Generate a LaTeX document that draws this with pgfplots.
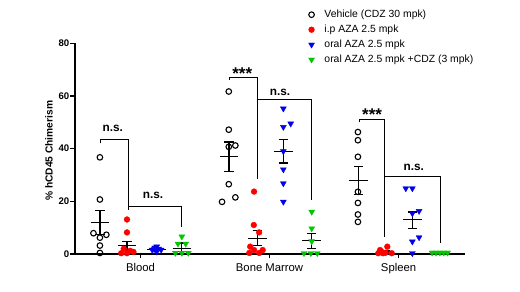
\documentclass[border=0pt]{standalone}
\usepackage{fontspec}
\setmainfont{Liberation Sans}
\usepackage{pgfplots}
\pgfplotsset{compat=1.18}
\definecolor{cred}{RGB}{255,0,0}
\definecolor{cblue}{RGB}{0,0,235}
\definecolor{cgreen}{RGB}{0,200,0}
\newcommand\fs[1]{\fontsize{#1}{#1}\selectfont}
\begin{document}
\begin{tikzpicture}
\useasboundingbox (-75pt,-38pt) rectangle (445pt,254pt);
\begin{axis}[
  at={(0,0)}, anchor=south west,
  scale only axis, width=390pt, height=210.7pt,
  xmin=0.492, xmax=3.515, ymin=0, ymax=80,
  axis lines=left, axis line style={line width=1.3pt,-},
  clip=false, unbounded coords=jump,
  xtick={1,2,3}, xticklabels={Blood,Bone Marrow,Spleen},
  ytick={0,20,40,60,80}, minor tick num=0,
  tick align=outside, major tick length=4.5pt,
  tick style={line width=1.2pt,black},
  /pgf/number format/assume math mode=true,
  yticklabel style={font=\fs{9.6}\bfseries, inner sep=1pt},
  xticklabel style={font=\fs{11.3}, inner sep=0pt, yshift=-5pt},
  ylabel={\% hCD45 Chimerism},
  ylabel style={font=\fs{10.2}\bfseries, at={(axis description cs:-0.0667,0.49)}, anchor=center, rotate=0},
  legend style={at={(axis description cs:0.599,1.1595)}, anchor=north west,
    draw=none, fill=none, inner sep=0pt, outer sep=0pt, row sep=5pt, column sep=10pt,
    font=\fs{10.4}, nodes={inner sep=0pt, text height=7.5pt, text depth=2.5pt}},
  legend cell align=left,
  legend image code/.code={\draw[#1] plot coordinates {(0pt,0pt)};},
]
% Vehicle
\addplot[only marks, mark=o, mark size=2.8pt, mark options={line width=1.1pt, black}] coordinates {
 (0.685,36.7)(0.685,20.7)(0.635,7.9)(0.685,6.2)(0.735,7.3)(0.685,3.2)(0.685,0.4)
 (1.684,61.7)(1.684,47.2)(1.735,41.2)(1.684,40.7)(1.684,26.5)(1.735,21.5)(1.632,19.8)
 (2.685,46.3)(2.685,43.2)(2.685,36.9)(2.685,23.6)(2.685,19.4)(2.685,15.0)(2.685,12.2)};
\addlegendentry{Vehicle (CDZ 30 mpk)}
% i.p AZA
\addplot[only marks, mark=*, mark size=2.9pt, color=cred, mark options={draw=cred, fill=cred}] coordinates {
 (0.895,13.1)(0.895,8.2)(0.87,2.0)(0.92,1.2)(0.85,0.3)(0.895,0.3)(0.945,0.8)
 (1.88,23.7)(1.878,11.0)(1.919,8.2)(1.85,2.8)(1.88,1.5)(1.947,1.5)(1.843,0.4)(1.92,0.4)
 (2.857,1.5)(2.913,2.8)(2.88,0.3)(2.947,0.3)(2.843,0.3)(2.9,0.5)(2.87,0.8)};
\addlegendentry{i.p AZA 2.5 mpk}
% oral AZA
\addplot[only marks, mark=triangle*, mark size=3.4pt, color=cblue, mark options={rotate=180, draw=cblue, fill=cblue}] coordinates {
 (1.09,1.6)(1.11,2.4)(1.125,2.8)(1.14,2.0)(1.16,1.6)(1.125,0.9)(1.105,1.8)
 (2.107,55.2)(2.164,49.5)(2.107,48.2)(2.107,39.0)(2.107,32.1)(2.107,26.8)(2.107,19.8)
 (3.056,24.9)(3.107,24.9)(3.159,16.3)(3.107,15.4)(3.159,6.3)(3.107,4.7)(3.107,0.3)};
\addlegendentry{oral AZA 2.5 mpk}
% oral AZA + CDZ
\addplot[only marks, mark=triangle*, mark size=3.4pt, color=cgreen, mark options={rotate=180, draw=cgreen, fill=cgreen}] coordinates {
 (1.32,6.6)(1.29,3.9)(1.35,3.9)(1.27,0.4)(1.32,0.4)(1.37,0.4)
 (2.327,16.0)(2.327,9.7)(2.327,4.8)(2.267,0.3)(2.32,0.3)(2.37,0.3)
 (3.26,0.5)(3.29,0.5)(3.32,0.5)(3.35,0.5)(3.38,0.5)};
\addlegendentry{oral AZA 2.5 mpk +CDZ (3 mpk)}
% mean and SEM
\addplot[black, line width=1.3pt, forget plot] coordinates {
 (0.613,11.9)(0.757,11.9)(nan,nan)(0.685,7.3)(0.685,16.4)(nan,nan)(0.649,7.3)(0.721,7.3)(nan,nan)(0.649,16.4)(0.721,16.4)(nan,nan)
 (0.823,3.1)(0.967,3.1)(nan,nan)(0.895,1.5)(0.895,4.8)(nan,nan)(0.859,1.5)(0.931,1.5)(nan,nan)(0.859,4.8)(0.931,4.8)(nan,nan)
 (1.053,1.8)(1.197,1.8)(nan,nan)(1.125,1.5)(1.125,2.2)(nan,nan)(1.089,1.5)(1.161,1.5)(nan,nan)(1.089,2.2)(1.161,2.2)(nan,nan)
 (1.248,2.2)(1.392,2.2)(nan,nan)(1.32,0.9)(1.32,4.2)(nan,nan)(1.284,0.9)(1.356,0.9)(nan,nan)(1.284,4.2)(1.356,4.2)(nan,nan)
 (1.614,36.9)(1.758,36.9)(nan,nan)(1.686,31.2)(1.686,42.5)(nan,nan)(1.65,31.2)(1.722,31.2)(nan,nan)(1.65,42.5)(1.722,42.5)(nan,nan)
 (1.833,5.8)(1.977,5.8)(nan,nan)(1.905,3.1)(1.905,8.8)(nan,nan)(1.869,3.1)(1.941,3.1)(nan,nan)(1.869,8.8)(1.941,8.8)(nan,nan)
 (2.035,39.0)(2.179,39.0)(nan,nan)(2.107,34.6)(2.107,43.4)(nan,nan)(2.071,34.6)(2.143,34.6)(nan,nan)(2.071,43.4)(2.143,43.4)(nan,nan)
 (2.255,5.0)(2.399,5.0)(nan,nan)(2.327,2.1)(2.327,7.8)(nan,nan)(2.291,2.1)(2.363,2.1)(nan,nan)(2.291,7.8)(2.363,7.8)(nan,nan)
 (2.618,28.0)(2.762,28.0)(nan,nan)(2.69,22.7)(2.69,33.3)(nan,nan)(2.654,22.7)(2.726,22.7)(nan,nan)(2.654,33.3)(2.726,33.3)(nan,nan)
 (2.823,0.7)(2.967,0.7)(nan,nan)(2.895,0.3)(2.895,1.1)(nan,nan)(2.859,0.3)(2.931,0.3)(nan,nan)(2.859,1.1)(2.931,1.1)(nan,nan)
 (3.035,13.1)(3.179,13.1)(nan,nan)(3.107,9.7)(3.107,16.0)(nan,nan)(3.071,9.7)(3.143,9.7)(nan,nan)(3.071,16.0)(3.143,16.0)(nan,nan)
 (3.248,0.4)(3.392,0.4)(nan,nan)(3.32,0.3)(3.32,0.5)(nan,nan)(3.284,0.3)(3.356,0.3)(nan,nan)(3.284,0.5)(3.356,0.5)};
% significance brackets
\addplot[black, line width=1pt, forget plot] coordinates {
 (0.686,42.0)(0.686,43.4)(0.905,43.4)(0.905,16.7)(nan,nan)(0.905,18.2)(1.314,18.2)(1.314,10.1)(nan,nan)
 (1.688,65.9)(1.688,67.2)(1.905,67.2)(1.905,28.3)(nan,nan)(1.905,58.6)(2.327,58.6)(2.327,20.5)(nan,nan)
 (2.694,50.0)(2.694,51.1)(2.89,51.1)(2.89,6.6)(nan,nan)(2.89,29.5)(3.322,29.5)(3.322,4.0)};
\node[anchor=base, inner sep=0pt, font=\fs{11.8}\bfseries] at (axis cs:0.785,46.6) {n.s.};
\node[anchor=base, inner sep=0pt, font=\fs{11.8}\bfseries] at (axis cs:1.097,21.1) {n.s.};
\node[anchor=base, inner sep=0pt, font=\fs{11.8}\bfseries] at (axis cs:2.081,60.2) {n.s.};
\node[anchor=base, inner sep=0pt, font=\fs{11.8}\bfseries] at (axis cs:3.118,31.8) {n.s.};
\node[anchor=base, inner sep=0pt, font=\fs{17}\bfseries] at (axis cs:1.788,66.3) {***};
\node[anchor=base, inner sep=0pt, font=\fs{17}\bfseries] at (axis cs:2.795,50.8) {***};
\end{axis}
\end{tikzpicture}
\end{document}
